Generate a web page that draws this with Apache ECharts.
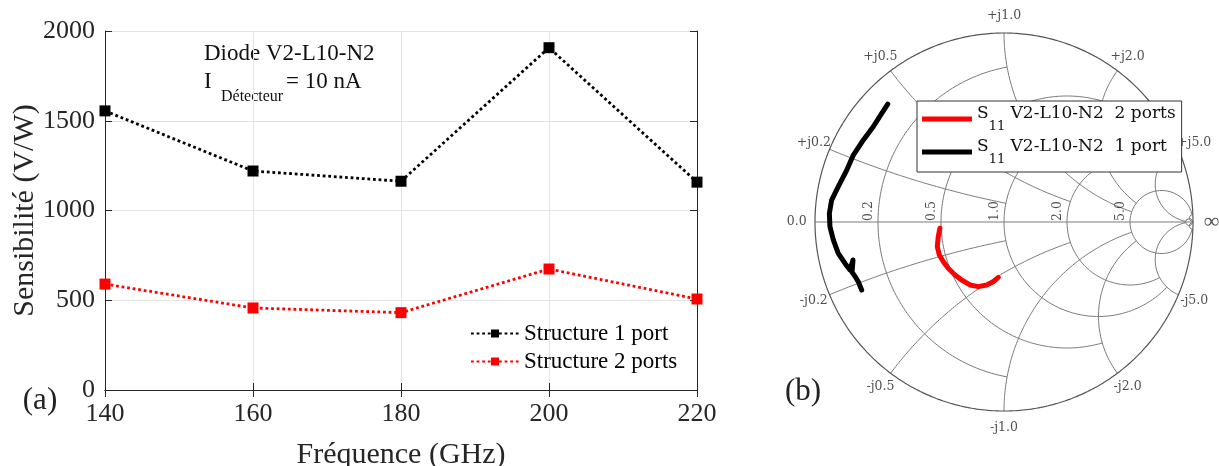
<!DOCTYPE html>
<html>
<head>
<meta charset="utf-8">
<title>Sensibilité et S11</title>
<script src="https://cdn.jsdelivr.net/npm/echarts@6/dist/echarts.min.js"></script>
<style>
  html, body { margin: 0; padding: 0; background: #fff; }
  #main { width: 1219px; height: 466px; }
</style>
</head>
<body>
<div id="main"></div>
<script>
// (a) sensibilité vs fréquence
var freq = [140, 160, 180, 200, 220];
var sens1port = [1555, 1220, 1163, 1907, 1158];
var sens2ports = [590, 457, 431, 674, 507];

// (b) S11 sur abaque de Smith (coefficient de réflexion, partie réelle / imaginaire)
var s11OnePortRe = [-0.615, -0.647, -0.692, -0.744, -0.797, -0.832, -0.877, -0.912, -0.924, -0.921, -0.903, -0.877, -0.841, -0.815, -0.799, -0.804, -0.783, -0.771, -0.753];
var s11OnePortIm = [0.624, 0.575, 0.504, 0.434, 0.354, 0.275, 0.187, 0.116, 0.046, -0.025, -0.095, -0.166, -0.219, -0.254, -0.201, -0.265, -0.296, -0.316, -0.360];
var s11TwoPortsRe = [-0.339, -0.348, -0.353, -0.342, -0.321, -0.295, -0.259, -0.224, -0.180, -0.136, -0.092, -0.057, -0.030];
var s11TwoPortsIm = [-0.033, -0.078, -0.131, -0.175, -0.210, -0.245, -0.280, -0.307, -0.333, -0.342, -0.333, -0.316, -0.293];

// grille de l'abaque : valeur du cercle et limite de tracé
var smithValues = [0.2, 0.5, 1, 2, 5, 50];
var smithLimits = [1, 2, 5, 5, 50, Infinity];
var reactTicks = [0.2, 0.5, 1, 2, 5];
var resTicks = [0.2, 0.5, 1, 2, 5];

var serif = 'Liberation Serif';
var smithFont = 'DejaVu Serif';
var axisCol = '#262626';

function gamma(a, b) {
  var d = (a + 1) * (a + 1) + b * b;
  return [(a * a - 1 + b * b) / d, 2 * b / d];
}

var N = 240;
var gridSeries = [];
function addArc(pts, col, w) {
  gridSeries.push({
    type: 'line', xAxisIndex: 2, yAxisIndex: 2, data: pts, showSymbol: false,
    silent: true, animation: false, z: 1, lineStyle: { color: col, width: w }
  });
}
smithValues.forEach(function (v, i) {
  var L = smithLimits[i];
  var amax = isFinite(L) ? Math.atan(L) : Math.PI / 2 - 1e-5;
  var rc = [], xp = [], xn = [];
  for (var k = 0; k <= N; k++) {
    rc.push(gamma(v, Math.tan(-amax + 2 * amax * k / N)));
    var r = Math.tan(amax * k / N);
    xp.push(gamma(r, v));
    xn.push(gamma(r, -v));
  }
  addArc(rc, '#7a7a7a', 1);
  addArc(xp, '#7a7a7a', 1);
  addArc(xn, '#7a7a7a', 1);
});
var outer = [];
for (var k = 0; k <= 2 * N; k++) {
  var t = 2 * Math.PI * k / (2 * N);
  outer.push([Math.cos(t), Math.sin(t)]);
}
addArc(outer, '#555555', 1.2);
addArc([[-1, 0], [1, 0]], '#7a7a7a', 1);

var reactLabelData = [{ value: [-1.097, 0], name: '0.0' }];
reactTicks.forEach(function (x) {
  var g = gamma(0, x);
  reactLabelData.push({ value: [g[0] * 1.09, g[1] * 1.09], name: '+j' + x.toFixed(1) });
  reactLabelData.push({ value: [g[0] * 1.09, -g[1] * 1.09], name: '-j' + x.toFixed(1) });
});
var resLabelData = resTicks.map(function (r) {
  return { value: [(r - 1) / (r + 1) - 0.05, 0.058], name: r.toFixed(1) };
});

function pairs(a, b) { return a.map(function (v, i) { return [v, b[i]]; }); }
function plain(v) { return String(v); }

var chart = echarts.init(document.getElementById('main'));
var option = {
  backgroundColor: '#fff',
  animation: false,
  grid: [
    { left: 105, top: 31, width: 592, height: 359, outerBoundsMode: 'none', containLabel: false },
    { left: 1004 - 1.2 * 189, top: 222 - 1.1 * 189, width: 2.3 * 189, height: 2.25 * 189, outerBoundsMode: 'none', containLabel: false }
  ],
  xAxis: [
    {
      type: 'value', gridIndex: 0, min: 140, max: 220, interval: 20,
      name: 'Fréquence (GHz)', nameLocation: 'middle', nameGap: 50, nameMoveOverlap: false,
      nameTextStyle: { fontFamily: serif, fontSize: 30, color: axisCol },
      axisLine: { lineStyle: { color: axisCol, width: 1 } },
      axisTick: { inside: true, length: 7, lineStyle: { color: axisCol } },
      axisLabel: { fontFamily: serif, fontSize: 26, color: axisCol, margin: 11, formatter: plain },
      splitLine: { show: true, lineStyle: { color: '#e3e3e3', width: 1 } }
    },
    {
      type: 'value', gridIndex: 0, position: 'top', min: 140, max: 220, interval: 20,
      axisLine: { lineStyle: { color: axisCol, width: 1 } },
      axisTick: { inside: true, length: 7, lineStyle: { color: axisCol } },
      axisLabel: { show: false }, splitLine: { show: false }
    },
    { type: 'value', gridIndex: 1, min: -1.2, max: 1.1, show: false }
  ],
  yAxis: [
    {
      type: 'value', gridIndex: 0, min: 0, max: 2000, interval: 500,
      name: 'Sensibilité (V/W)', nameLocation: 'middle', nameGap: 65, nameMoveOverlap: false,
      nameTextStyle: { fontFamily: serif, fontSize: 30, color: axisCol },
      axisLine: { show: true, lineStyle: { color: axisCol, width: 1 } },
      axisTick: { show: true, inside: true, length: 7, lineStyle: { color: axisCol } },
      axisLabel: { fontFamily: serif, fontSize: 26, color: axisCol, margin: 10, formatter: plain },
      splitLine: { show: true, lineStyle: { color: '#e3e3e3', width: 1 } }
    },
    {
      type: 'value', gridIndex: 0, position: 'right', min: 0, max: 2000, interval: 500,
      axisLine: { show: true, lineStyle: { color: axisCol, width: 1 } },
      axisTick: { show: true, inside: true, length: 7, lineStyle: { color: axisCol } },
      axisLabel: { show: false }, splitLine: { show: false }
    },
    { type: 'value', gridIndex: 1, min: -1.15, max: 1.1, show: false }
  ],
  legend: [
    {
      data: ['Structure 1 port', 'Structure 2 ports'],
      orient: 'vertical', left: 470, top: 322, padding: 0,
      itemWidth: 48, itemHeight: 10, itemGap: 5,
      textStyle: { fontFamily: serif, fontSize: 23, color: '#000' }
    },
    {
      data: ['S11 V2-L10-N2  2 ports', 'S11 V2-L10-N2  1 port'],
      orient: 'vertical', left: 917, top: 101, padding: [4, 6, 6, 5],
      itemWidth: 50, itemHeight: 5, itemGap: 5, icon: 'rect',
      backgroundColor: '#fff', borderColor: '#333', borderWidth: 1, borderRadius: 0,
      formatter: function (name) { return '{m|S}{s|11}{m|' + name.slice(3) + '}'; },
      textStyle: {
        rich: {
          m: { fontFamily: smithFont, fontSize: 17, color: '#111', verticalAlign: 'top', lineHeight: 19 },
          s: { fontFamily: smithFont, fontSize: 13, color: '#111', verticalAlign: 'bottom', lineHeight: 28 }
        }
      }
    }
  ],
  graphic: [
    { type: 'text', x: 204, y: 54, style: { text: 'Diode V2-L10-N2', font: '23px "Liberation Serif"', fill: '#111', textVerticalAlign: 'middle' } },
    { type: 'text', x: 204, y: 82, style: { text: 'I', font: '23px "Liberation Serif"', fill: '#111', textVerticalAlign: 'middle' } },
    { type: 'text', x: 221, y: 97, style: { text: 'Détecteur', font: '16px "Liberation Serif"', fill: '#111', textVerticalAlign: 'middle' } },
    { type: 'text', x: 286, y: 82, style: { text: '= 10 nA', font: '23px "Liberation Serif"', fill: '#111', textVerticalAlign: 'middle' } },
    { type: 'text', x: 40, y: 401, style: { text: '(a)', font: '31px "Liberation Serif"', fill: '#222', textAlign: 'center', textVerticalAlign: 'middle' } },
    { type: 'text', x: 803, y: 392, style: { text: '(b)', font: '31px "Liberation Serif"', fill: '#222', textAlign: 'center', textVerticalAlign: 'middle' } }
  ],
  series: gridSeries.concat([
    {
      name: 'Structure 1 port', type: 'line', xAxisIndex: 0, yAxisIndex: 0,
      data: pairs(freq, sens1port), symbol: 'rect', symbolSize: 11,
      itemStyle: { color: '#000' }, lineStyle: { color: '#000', width: 2.8, type: [2.8, 2.8] }, z: 3
    },
    {
      name: 'Structure 2 ports', type: 'line', xAxisIndex: 0, yAxisIndex: 0,
      data: pairs(freq, sens2ports), symbol: 'rect', symbolSize: 11,
      itemStyle: { color: '#ff0000' }, lineStyle: { color: '#ff0000', width: 2.8, type: [2.8, 2.8] }, z: 3
    },
    {
      name: 'S11 V2-L10-N2  2 ports', type: 'line', xAxisIndex: 2, yAxisIndex: 2,
      data: pairs(s11TwoPortsRe, s11TwoPortsIm), showSymbol: false,
      itemStyle: { color: '#ff0000' }, lineStyle: { color: '#ff0000', width: 5, cap: 'round', join: 'round' }, z: 3
    },
    {
      name: 'S11 V2-L10-N2  1 port', type: 'line', xAxisIndex: 2, yAxisIndex: 2,
      data: pairs(s11OnePortRe, s11OnePortIm), showSymbol: false,
      itemStyle: { color: '#000' }, lineStyle: { color: '#000', width: 5, cap: 'round', join: 'round' }, z: 3
    },
    {
      type: 'scatter', xAxisIndex: 2, yAxisIndex: 2, data: reactLabelData, symbolSize: 1,
      silent: true, clip: false, itemStyle: { color: 'transparent' },
      label: { show: true, position: 'inside', formatter: '{b}', fontFamily: smithFont, fontSize: 12.5, color: '#222' }
    },
    {
      type: 'scatter', xAxisIndex: 2, yAxisIndex: 2, data: [{ value: [1.099, 0], name: '∞' }], symbolSize: 1,
      silent: true, clip: false, itemStyle: { color: 'transparent' },
      label: { show: true, position: 'inside', rotate: 0, formatter: '{b}', fontFamily: serif, fontSize: 22, color: '#222' }
    },
    {
      type: 'scatter', xAxisIndex: 2, yAxisIndex: 2, data: resLabelData, symbolSize: 1,
      silent: true, clip: false, itemStyle: { color: 'transparent' },
      label: { show: true, position: 'inside', rotate: 90, formatter: '{b}', fontFamily: smithFont, fontSize: 12.5, color: '#222' }
    }
  ])
};
chart.setOption(option);
</script>
</body>
</html>
